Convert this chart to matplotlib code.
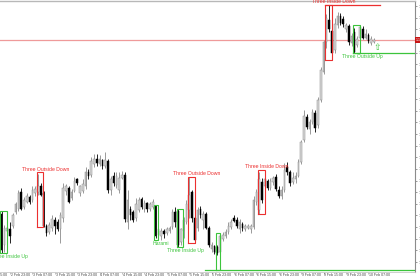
import matplotlib
matplotlib.use("Agg")
import matplotlib.pyplot as plt
import matplotlib.transforms as mtransforms
import numpy as np

# ---------------- data (prices in pips above BASE) ----------------
BASE = 1.1300
PIP = 0.0001

open_pips = [41, 15, 27, 28, 31, 43, 46, 60, 47, 52, 56, 53, 59, 60, 65, 59, 31, 26, 29, 36,
             34, 28, 38, 61, 64, 55, 61, 71, 59, 61, 65, 77, 75, 84, 89, 84, 88, 83, 87, 62,
             74, 66, 62, 72, 75, 34, 46, 43, 38, 45, 54, 46, 51, 46, 47, 48, 23, 22, 27, 25,
             27, 30, 43, 44, 17, 27, 34, 45, 60, 38, 29, 46, 36, 41, 29, 11, 14, 13, 9, 20,
             22, 26, 30, 38, 36, 28, 33, 28, 29, 28, 30, 52, 45, 69, 65, 70, 64, 69, 73, 62,
             57, 62, 82, 77, 69, 71, 74, 86, 105, 125, 114, 120, 128, 118, 139, 163, 189, 208, 199, 182,
             204, 212, 209, 200, 203, 188, 198, 187, 193, 200, 193, 195, 188, 189]
close_pips = [10, 29, 29, 22, 40, 50, 59, 46, 53, 57, 52, 62, 63, 65, 58, 31, 25, 32, 37, 31,
              28, 40, 64, 65, 52, 60, 70, 68, 65, 67, 77, 74, 87, 89, 85, 89, 83, 88, 62, 71,
              68, 74, 72, 75, 37, 53, 40, 36, 50, 53, 47, 51, 46, 50, 52, 22, 28, 27, 24, 28,
              29, 43, 34, 15, 28, 36, 50, 58, 38, 19, 45, 40, 41, 29, 15, 15, 9, 8, 22, 23,
              26, 31, 34, 35, 31, 34, 29, 31, 31, 31, 53, 60, 71, 53, 71, 64, 70, 72, 63, 57,
              62, 79, 77, 68, 72, 74, 86, 103, 126, 116, 120, 129, 115, 139, 165, 189, 210, 200, 180, 205,
              212, 206, 205, 204, 189, 194, 181, 192, 202, 193, 196, 190, 192, 191]
high_pips = [44, 32, 32, 34, 42, 52, 62, 64, 56, 59, 58, 65, 65, 76, 68, 61, 33, 34, 40, 39,
             37, 43, 68, 67, 65, 63, 73, 72, 66, 71, 82, 80, 90, 93, 93, 92, 89, 95, 89, 74,
             77, 77, 77, 78, 77, 62, 48, 45, 55, 56, 56, 53, 52, 52, 54, 49, 29, 29, 28, 30,
             31, 46, 47, 46, 29, 39, 53, 73, 62, 40, 47, 48, 44, 43, 31, 17, 15, 15, 25, 26,
             28, 34, 37, 40, 39, 37, 34, 33, 33, 33, 57, 63, 77, 72, 73, 71, 72, 74, 76, 65,
             65, 85, 86, 79, 77, 77, 89, 105, 131, 127, 123, 132, 131, 142, 168, 191, 213, 221, 201, 210,
             215, 214, 212, 206, 205, 197, 201, 194, 204, 203, 200, 197, 194, 193]
low_pips = [8, 9, 24, 16, 29, 41, 44, 45, 46, 51, 50, 52, 57, 58, 57, 30, 22, 24, 27, 24,
            27, 16, 34, 58, 51, 53, 60, 66, 57, 59, 63, 71, 73, 82, 83, 83, 80, 81, 59, 58,
            65, 64, 59, 71, 34, 28, 36, 34, 35, 43, 46, 43, 43, 44, 46, 21, 19, 19, 21, 23,
            25, 28, 30, 13, 15, 21, 33, 38, 34, 16, 27, 38, 28, 28, 13, 9, 7, 6, 7, 18,
            21, 24, 28, 34, 29, 25, 27, 27, 28, 25, 28, 49, 41, 51, 64, 62, 62, 66, 61, 55,
            54, 60, 75, 65, 67, 68, 73, 84, 103, 114, 110, 119, 112, 115, 138, 162, 184, 198, 174, 180,
            201, 204, 202, 198, 187, 186, 180, 185, 191, 192, 192, 188, 187, 188]

# time axis labels (every 8 H1 bars; bar 0 = 2 Feb 20:00)
time_labels = ["2 Feb 15:00", "2 Feb 23:00", "3 Feb 07:00", "3 Feb 15:00", "3 Feb 23:00",
               "4 Feb 07:00", "4 Feb 15:00", "4 Feb 23:00", "5 Feb 07:00", "5 Feb 15:00",
               "5 Feb 23:00", "6 Feb 07:00", "6 Feb 15:00", "6 Feb 23:00", "9 Feb 07:00",
               "9 Feb 15:00", "9 Feb 23:00", "10 Feb 07:00"]
time_label_bars = [-5, 3, 11, 19, 27, 35, 43, 51, 59, 67, 75, 83, 91, 99, 107, 115, 123, 131]

# candlestick pattern boxes
pat_names = ["Three Inside Up", "Three Outside Down", "Harami", "Three Inside Up",
             "Three Outside Down", "", "Three Inside Down", "Three Inside Down", "Three Outside Up"]
pat_start = [0, 13, 55, 63, 67, 77, 92, 116, 126]
pat_end = [2, 15, 56, 65, 69, 78, 94, 118, 128]
pat_top = [44, 77, 49, 46, 73, 25, 79, 221, 204]
pat_bottom = [8, 30, 19, 13, 16, -7, 41, 174, 180]
pat_bull = [True, False, True, True, False, True, False, False, True]

# level lines drawn by the pattern indicator
lvl_pips = [221, 180, -7]
lvl_start = [115.55, 125.55, 72.5]
lvl_end = [135.1, 147.7, 147.7]
lvl_bull = [False, True, True]

arrow_bar = [134.1]
arrow_pips = [180.4]

bid_pips = 191

# ---------------- drawing ----------------
O = BASE + np.array(open_pips) * PIP
C = BASE + np.array(close_pips) * PIP
H = BASE + np.array(high_pips) * PIP
L = BASE + np.array(low_pips) * PIP
x = np.arange(len(O))
bull = C >= O

GREEN = "#3cc43c"
RED = "#ec2f2f"

fig = plt.figure(figsize=(4.2, 2.8), dpi=100)
fig.patch.set_facecolor("white")
ax = fig.add_axes([0, 1 - 272 / 280, 415 / 420, 271 / 280])
ax.set_facecolor("white")

xlim = (-0.571, 147.64)
ylim = (BASE - 8.6 * PIP, BASE + 224.5 * PIP)

# bid line
ax.axhline(BASE + bid_pips * PIP, color="#ef9a9a", lw=0.9, zorder=1)

wick_col = np.where(bull, "#8a8a8a", "#000000")
ax.vlines(x, L, H, colors=wick_col, lw=0.6, zorder=2)
body_bottom = np.minimum(O, C)
body_h = np.maximum(np.abs(C - O), 0.35 * PIP)
ax.bar(x, body_h, bottom=body_bottom, width=0.62,
       color=np.where(bull, "#d8d8d8", "#000000"),
       edgecolor=np.where(bull, "#8a8a8a", "#000000"), linewidth=0.35, zorder=3)

# pattern boxes and labels
for name, s, e, t, b, isbull in zip(pat_names, pat_start, pat_end, pat_top, pat_bottom, pat_bull):
    col = GREEN if isbull else RED
    x0, x1 = s - 0.45, e - 0.1
    yt, yb = BASE + t * PIP, BASE + b * PIP
    ax.plot([x0, x1, x1, x0, x0], [yb, yb, yt, yt, yb], color=col, lw=0.8, zorder=4,
            solid_joinstyle="miter")
    if name:
        if isbull:
            ax.annotate(name, (e + 0.8, yb), xytext=(0, -1.0), textcoords="offset points",
                        ha="center", va="top", fontsize=3.7, color=col,
                        family="Liberation Sans", zorder=5)
        else:
            ax.annotate(name, (e + 0.8, yt), xytext=(0, 0.6), textcoords="offset points",
                        ha="center", va="bottom", fontsize=3.7, color=col,
                        family="Liberation Sans", zorder=5, annotation_clip=False)

for lv, s, e, isbull in zip(lvl_pips, lvl_start, lvl_end, lvl_bull):
    ax.plot([s, e], [BASE + lv * PIP] * 2, color=GREEN if isbull else RED, lw=0.9, zorder=4)

for xb, yp in zip(arrow_bar, arrow_pips):
    ax.text(xb, BASE + yp * PIP, "\u21e7", ha="center", va="bottom", fontsize=6.5,
            color=GREEN, family="DejaVu Sans", zorder=5)

ax.set_xlim(*xlim)
ax.set_ylim(*ylim)

# spines
ax.spines["left"].set_visible(False)
ax.spines["top"].set_color("#b8b8b8")
ax.spines["top"].set_linewidth(1.0)
ax.spines["bottom"].set_color("#c8c8c8")
ax.spines["bottom"].set_linewidth(0.6)
ax.spines["right"].set_color("#8c8c8c")
ax.spines["right"].set_linewidth(0.8)

# price axis on the right
ax.yaxis.tick_right()
yt_vals = BASE + np.arange(0, 230, 10) * PIP
ax.set_yticks(yt_vals)
ax.set_yticklabels([f"{v:.4f}" for v in yt_vals])
ax.tick_params(axis="y", direction="out", length=1.6, width=0.5, colors="#707070",
               labelsize=2.6, labelcolor="#404040", pad=0.8)

# time axis
in_range = [b for b in time_label_bars if xlim[0] <= b <= xlim[1]]
ax.set_xticks(in_range)
ax.set_xticklabels([""] * len(in_range))
ax.tick_params(axis="x", direction="out", length=1.2, width=0.4, colors="#909090")
trans = mtransforms.blended_transform_factory(ax.transData, ax.transAxes)
for b, lab in zip(time_label_bars, time_labels):
    ax.text(b + 0.25, -0.004, lab, transform=trans, ha="left", va="top", fontsize=2.5,
            color="#404040", family="Liberation Sans", clip_on=False)

# bid price tag
tag_trans = mtransforms.blended_transform_factory(ax.transAxes, ax.transData)
ax.text(1.002, BASE + bid_pips * PIP, f"{BASE + bid_pips * PIP:.4f}", transform=tag_trans,
        ha="left", va="center", fontsize=2.6, color="white", family="Liberation Sans",
        bbox=dict(facecolor="#c81414", edgecolor="none", pad=0.8), clip_on=False, zorder=6)

fig.savefig("out.png", dpi=100, facecolor="white")
